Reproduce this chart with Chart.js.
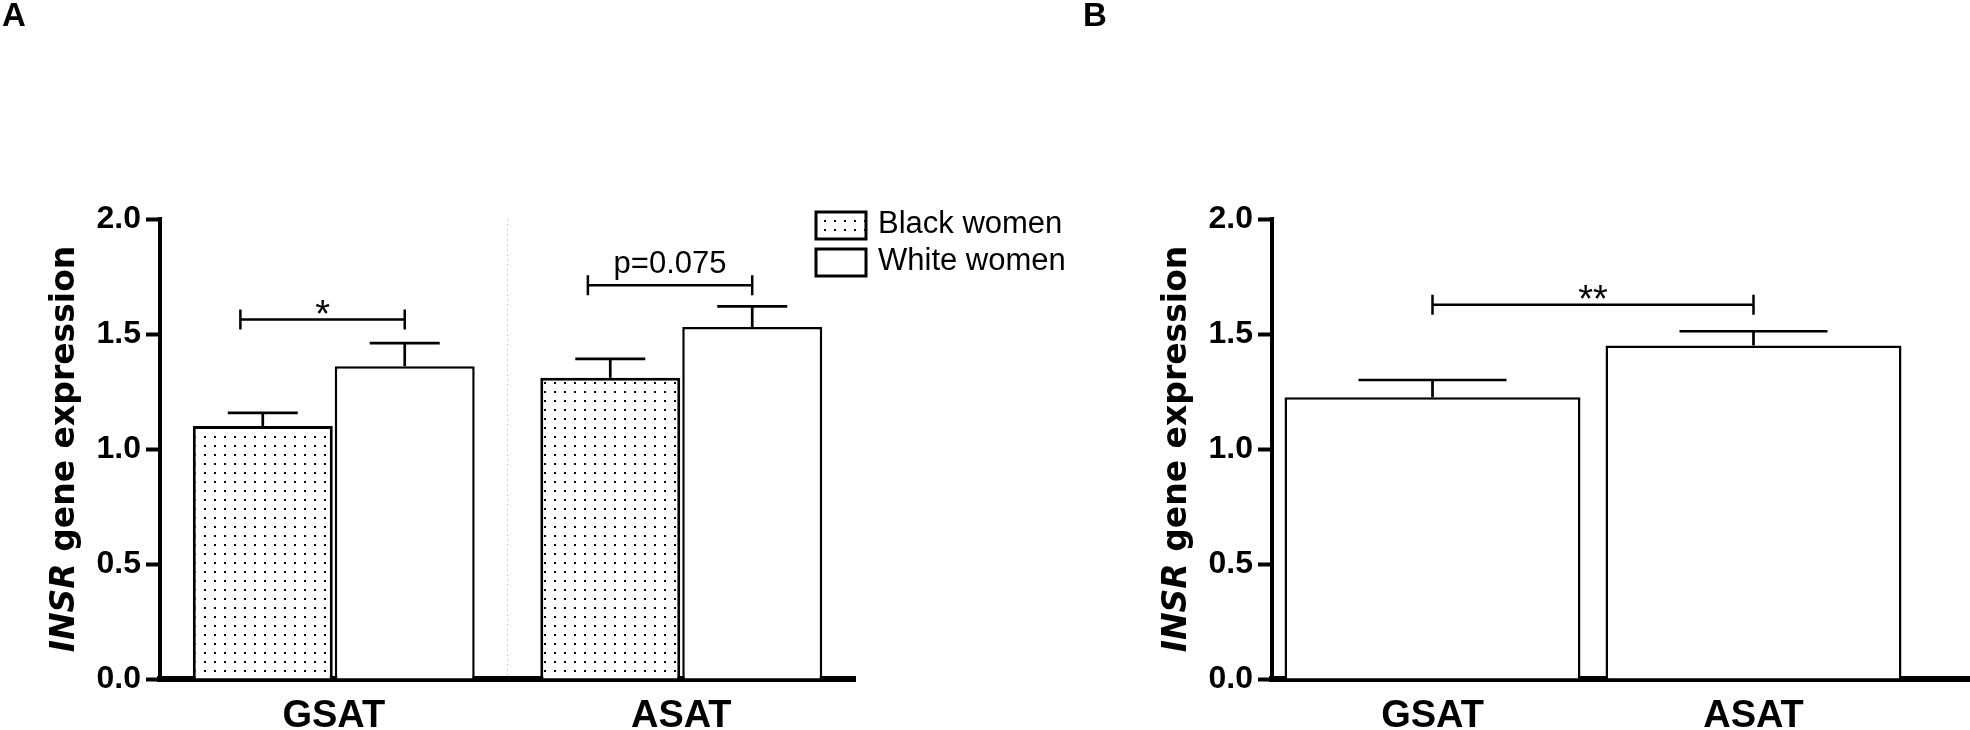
<!DOCTYPE html>
<html>
<head>
<meta charset="utf-8">
<script src="https://cdn.jsdelivr.net/npm/chart.js@4.4.1/dist/chart.umd.min.js"></script>
<style>
html, body { margin: 0; padding: 0; background: #fff; }
body { width: 1970px; height: 730px; position: relative; overflow: hidden; }
canvas { position: absolute; top: 0; }
#chartA { left: 0; }
#chartB { left: 1080px; }
</style>
</head>
<body>
<canvas id="chartA" width="1080" height="730"></canvas>
<canvas id="chartB" width="890" height="730"></canvas>
<script>
// data
var categories = ['GSAT', 'ASAT'];
var seriesNames = ['Black women', 'White women'];
var blackWomen = [1.10, 1.31];
var blackWomenSem = [0.057, 0.082];
var whiteWomen = [1.36, 1.53];
var whiteWomenSem = [0.10, 0.09];
var allWomen = [1.225, 1.45];
var allWomenSem = [0.075, 0.062];
var yTicks = [0, 0.5, 1.0, 1.5, 2.0];
var sigA = [{cat: 0, y: 1.563, text: '*'}, {cat: 1, y: 1.712, text: 'p=0.075'}];
var sigB = [{y: 1.627, text: '**'}];

var FONT = '"Liberation Sans", Arial, sans-serif';

// category labels are set in a condensed bold face when one is installed
var probe = document.createElement('canvas').getContext('2d');
probe.font = 'bold 44px "Liberation Sans Narrow", monospace';
var wNarrow = probe.measureText('GSAT').width;
probe.font = 'bold 44px monospace';
var hasNarrow = wNarrow !== probe.measureText('GSAT').width;
var catFont = hasNarrow
  ? { family: '"Liberation Sans Narrow", "Liberation Sans", sans-serif', weight: 'bold', size: 44 }
  : { family: FONT, weight: 'bold', size: 38 };
var catPad = hasNarrow ? 14 : 15;

function dots() {
  var c = document.createElement('canvas');
  c.width = 10; c.height = 9;
  var g = c.getContext('2d');
  g.fillStyle = '#fff'; g.fillRect(0, 0, 10, 9);
  g.fillStyle = '#000'; g.fillRect(4, 4, 2, 2);
  return g.createPattern(c, 'repeat');
}

function baseOptions(yWidth, padRight) {
  return {
    responsive: false,
    animation: false,
    devicePixelRatio: 1,
    layout: { padding: { top: 219, right: padRight, left: 0, bottom: 0 } },
    plugins: { legend: { display: false }, tooltip: { enabled: false } },
    scales: {
      x: {
        z: 1,
        grid: { display: false, drawTicks: false },
        border: { color: '#000', width: 6 },
        ticks: { color: '#000', padding: catPad, font: catFont },
        afterFit: function(s) { s.height = 51; }
      },
      y: {
        z: 1,
        min: 0, max: 2,
        afterBuildTicks: function(s) { s.ticks = yTicks.map(function(v) { return { value: v }; }); },
        grid: { drawOnChartArea: false, drawTicks: true, tickLength: 14, tickWidth: 4, tickColor: '#000' },
        border: { color: '#000', width: 4 },
        ticks: {
          color: '#000', padding: 5,
          font: { family: FONT, weight: 'bold', size: 32 },
          callback: function(v) { return Number(v).toFixed(1); }
        },
        afterFit: function(s) { s.width = yWidth; }
      }
    }
  };
}

var errorBars = {
  id: 'errorBars',
  afterDatasetsDraw: function(chart) {
    var ctx = chart.ctx, y = chart.scales.y;
    ctx.save();
    ctx.strokeStyle = '#000';
    ctx.lineWidth = 2.7;
    chart.data.datasets.forEach(function(ds, i) {
      chart.getDatasetMeta(i).data.forEach(function(bar, j) {
        var top = y.getPixelForValue(ds.data[j] + ds.errors[j]);
        var half = bar.width / 4;
        ctx.beginPath();
        ctx.moveTo(bar.x, bar.y);
        ctx.lineTo(bar.x, top);
        ctx.moveTo(bar.x - half, top);
        ctx.lineTo(bar.x + half, top);
        ctx.stroke();
      });
    });
    ctx.restore();
  }
};

function bracket(ctx, x1, x2, yp, text, font, textDy) {
  ctx.save();
  ctx.strokeStyle = '#000';
  ctx.lineWidth = 2.5;
  ctx.beginPath();
  ctx.moveTo(x1, yp); ctx.lineTo(x2, yp);
  ctx.moveTo(x1, yp - 10); ctx.lineTo(x1, yp + 10);
  ctx.moveTo(x2, yp - 10); ctx.lineTo(x2, yp + 10);
  ctx.stroke();
  ctx.fillStyle = '#000';
  ctx.font = font;
  ctx.textAlign = 'center';
  ctx.textBaseline = 'alphabetic';
  ctx.fillText(text, (x1 + x2) / 2, yp + textDy);
  ctx.restore();
}

function yTitle(ctx, x, y) {
  var f1 = 'italic bold 33px "DejaVu Sans", sans-serif';
  var f2 = 'bold 33px "DejaVu Sans", sans-serif';
  ctx.save();
  ctx.translate(x, y);
  ctx.rotate(-Math.PI / 2);
  ctx.fillStyle = '#000';
  ctx.textBaseline = 'alphabetic';
  ctx.textAlign = 'left';
  ctx.font = f1; var w1 = ctx.measureText('INSR').width;
  ctx.font = f2; var w2 = ctx.measureText(' gene expression').width;
  var sx = -(w1 + w2) / 2;
  ctx.font = f1; ctx.fillText('INSR', sx, 0);
  ctx.font = f2; ctx.fillText(' gene expression', sx + w1, 0);
  ctx.restore();
}

function panelLetter(ctx, letter, x) {
  ctx.save();
  ctx.fillStyle = '#000';
  ctx.font = 'bold 33px ' + FONT;
  ctx.textBaseline = 'alphabetic';
  ctx.fillText(letter, x, 26);
  ctx.restore();
}

var decorA = {
  id: 'decorA',
  beforeDatasetsDraw: function(chart) {
    // faint dotted divider between the two depots
    var ctx = chart.ctx, a = chart.chartArea;
    var xm = chart.scales.x.getPixelForValue(0.5);
    ctx.save();
    ctx.strokeStyle = '#d0d0d0';
    ctx.lineWidth = 1;
    ctx.setLineDash([2, 3]);
    ctx.beginPath();
    ctx.moveTo(xm, a.top);
    ctx.lineTo(xm, a.bottom);
    ctx.stroke();
    ctx.restore();
  },
  afterDatasetsDraw: function(chart) {
    var ctx = chart.ctx, y = chart.scales.y;
    var m0 = chart.getDatasetMeta(0).data, m1 = chart.getDatasetMeta(1).data;
    sigA.forEach(function(s) {
      var x1 = m0[s.cat].x - 0.16 * m0[s.cat].width;
      var x2 = m1[s.cat].x;
      var isStar = s.text.indexOf('*') === 0;
      bracket(ctx, x1, x2, y.getPixelForValue(s.y), s.text,
        isStar ? '38px ' + FONT : '31px ' + FONT, isStar ? 7 : -12);
    });
  },
  afterDraw: function(chart) {
    var ctx = chart.ctx;
    yTitle(ctx, 74, (chart.chartArea.top + chart.chartArea.bottom) / 2);
    panelLetter(ctx, 'A', 2);
    // legend
    var rows = [212, 249];
    chart.data.datasets.forEach(function(ds, i) {
      var top = rows[i];
      ctx.save();
      ctx.fillStyle = ds.backgroundColor;
      ctx.fillRect(816, top, 50, 27);
      ctx.strokeStyle = '#000';
      ctx.lineWidth = 3;
      ctx.strokeRect(816, top, 50, 27);
      ctx.fillStyle = '#000';
      ctx.font = '31px ' + FONT;
      ctx.textBaseline = 'alphabetic';
      ctx.fillText(ds.label, 878, top + 21);
      ctx.restore();
    });
  }
};

var decorB = {
  id: 'decorB',
  afterDatasetsDraw: function(chart) {
    var ctx = chart.ctx, y = chart.scales.y;
    var m0 = chart.getDatasetMeta(0).data;
    sigB.forEach(function(s) {
      bracket(ctx, m0[0].x, m0[1].x, y.getPixelForValue(s.y), s.text, '38px ' + FONT, 7);
    });
  },
  afterDraw: function(chart) {
    var ctx = chart.ctx, a = chart.chartArea;
    yTitle(ctx, 106, (a.top + a.bottom) / 2);
    panelLetter(ctx, 'B', 3);
    ctx.save();
    ctx.strokeStyle = '#000';
    ctx.lineWidth = 6;
    ctx.beginPath();
    ctx.moveTo(a.right - 2, chart.scales.x.top);
    ctx.lineTo(chart.width, chart.scales.x.top);
    ctx.stroke();
    ctx.restore();
  }
};

new Chart(document.getElementById('chartA').getContext('2d'), {
  type: 'bar',
  data: {
    labels: categories,
    datasets: [{
      label: seriesNames[0],
      data: blackWomen,
      errors: blackWomenSem,
      backgroundColor: dots(),
      borderColor: '#000',
      borderWidth: 3,
      categoryPercentage: 0.817,
      barPercentage: 0.986
    }, {
      label: seriesNames[1],
      data: whiteWomen,
      errors: whiteWomenSem,
      backgroundColor: '#fff',
      borderColor: '#000',
      borderWidth: 2.5,
      categoryPercentage: 0.817,
      barPercentage: 0.986
    }]
  },
  options: baseOptions(160, 225),
  plugins: [errorBars, decorA]
});

new Chart(document.getElementById('chartB').getContext('2d'), {
  type: 'bar',
  data: {
    labels: categories,
    datasets: [{
      label: 'All women',
      data: allWomen,
      errors: allWomenSem,
      backgroundColor: '#fff',
      borderColor: '#000',
      borderWidth: 2.5,
      categoryPercentage: 0.922,
      barPercentage: 1
    }]
  },
  options: baseOptions(192, 56),
  plugins: [errorBars, decorB]
});
</script>
</body>
</html>
